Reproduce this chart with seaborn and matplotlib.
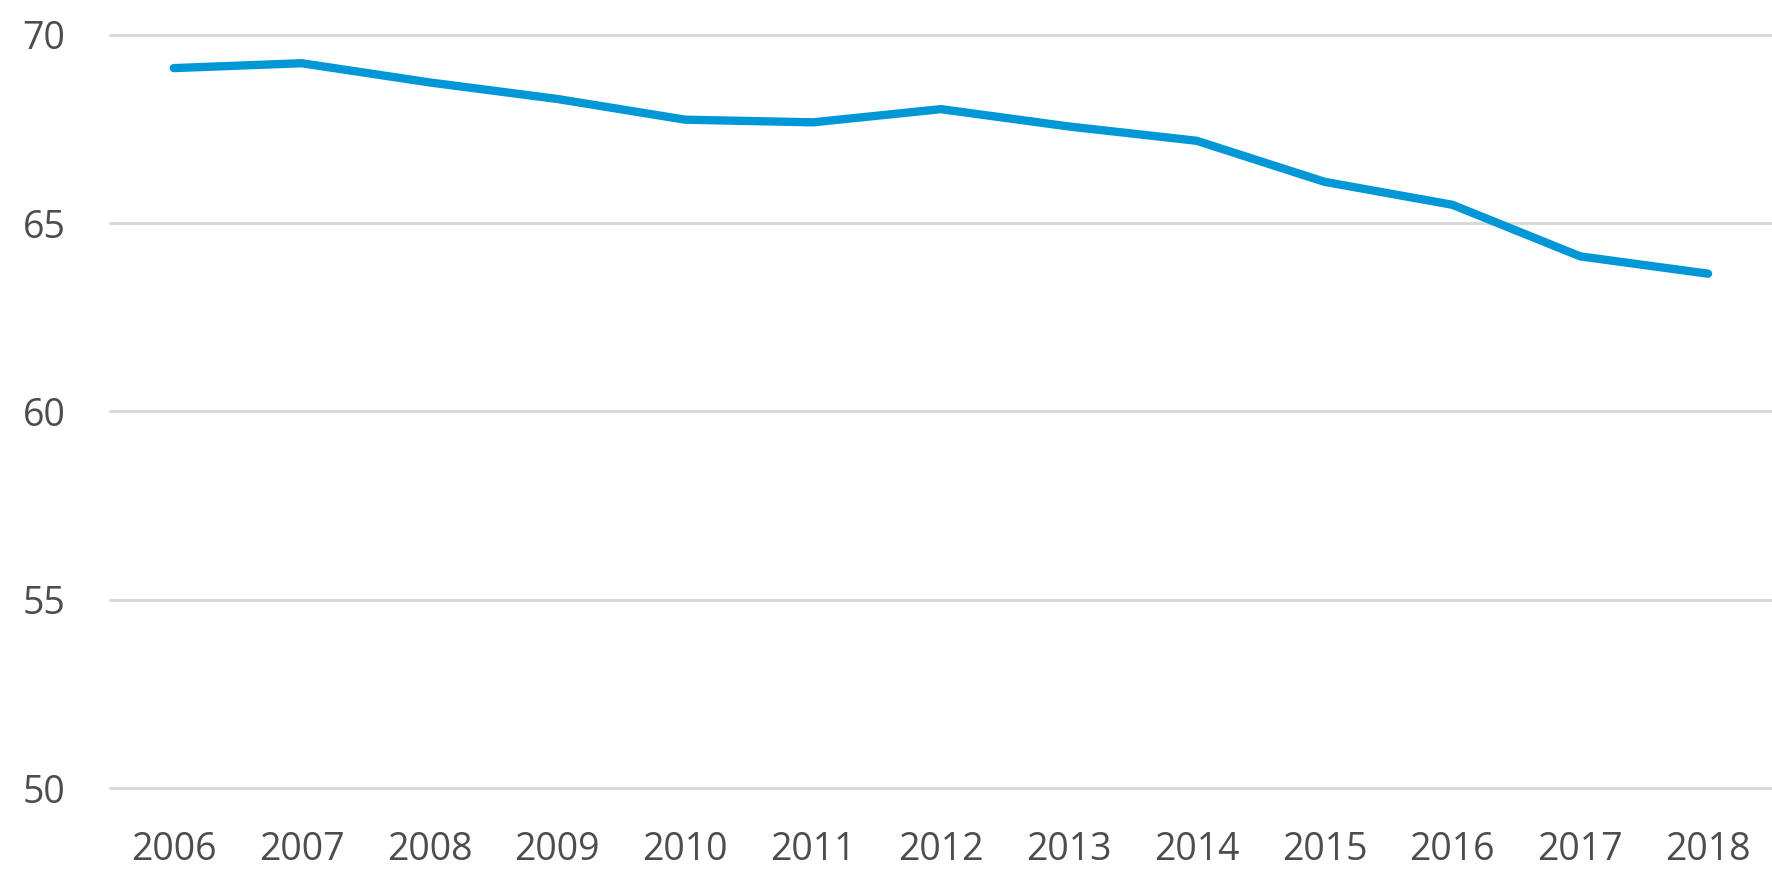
import matplotlib
matplotlib.use('Agg')
import matplotlib.pyplot as plt
import seaborn as sns
import pandas as pd

# data
years = ['2006', '2007', '2008', '2009', '2010', '2011', '2012',
         '2013', '2014', '2015', '2016', '2017', '2018']
values = [69.12, 69.25, 68.74, 68.30, 67.75, 67.68, 68.03,
          67.57, 67.19, 66.10, 65.49, 64.12, 63.66]
y_ticks = [50, 55, 60, 65, 70]

df = pd.DataFrame({'year': years, 'value': values})

sns.set_style('white')
plt.rcParams['font.family'] = ['Open Sans', 'DejaVu Sans']

fig = plt.figure(figsize=(17.72, 8.9), dpi=100)
ax = fig.add_axes([0.062, 0.1146, 0.938, 0.8461])

sns.lineplot(data=df, x='year', y='value', ax=ax, color='#0097D6',
             linewidth=6, solid_capstyle='round', solid_joinstyle='miter')

ax.set_ylim(50, 70)
ax.set_xlim(-0.5, len(years) - 0.5)
ax.set_yticks(y_ticks)
ax.yaxis.grid(True, color='#D9D9D9', linewidth=2.2)
for gl in ax.get_ygridlines():
    gl.set_clip_on(False)
ax.set_axisbelow(True)
for s in ax.spines.values():
    s.set_visible(False)

ax.tick_params(axis='both', length=0, labelsize=27, labelcolor='#4D4D4D')
ax.tick_params(axis='y', pad=32)
ax.tick_params(axis='x', pad=31)
ax.set_xlabel('')
ax.set_ylabel('')

fig.savefig('out.png', dpi=100)
